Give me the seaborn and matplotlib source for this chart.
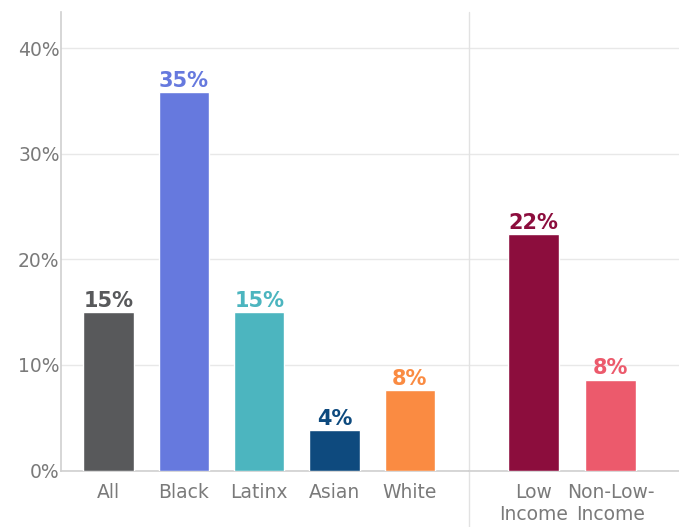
import matplotlib
matplotlib.use('Agg')
import matplotlib.pyplot as plt
import seaborn as sns
import pandas as pd

# Race / ethnicity group
race_groups = ['All', 'Black', 'Latinx', 'Asian', 'White']
race_values = [15.0, 35.8, 15.0, 3.8, 7.6]
race_labels = ['15%', '35%', '15%', '4%', '8%']
race_colors = ['#58595b', '#6679de', '#4cb5bf', '#0e4a7e', '#fa8b42']

# Income group
income_groups = ['Low\nIncome', 'Non-Low-\nIncome']
income_values = [22.4, 8.6]
income_labels = ['22%', '8%']
income_colors = ['#8c0d3d', '#ec5a6c']

y_ticks = [0, 10, 20, 30, 40]
y_tick_labels = ['0%', '10%', '20%', '30%', '40%']

GRID = '#e8e8e8'
SPINE = '#cfcfcf'
TICK = '#7a7a7a'


def draw_panel(ax, groups, values, labels, colors):
    df = pd.DataFrame({'group': groups, 'value': values})
    sns.barplot(data=df, x='group', y='value', hue='group', order=groups,
                palette=dict(zip(groups, colors)), width=0.67,
                saturation=1, legend=False, ax=ax, zorder=3)
    for cont, lab, col in zip(ax.containers, labels, colors):
        ax.bar_label(cont, labels=[lab], padding=1, color=col,
                     fontsize=15, fontweight='semibold')
    ax.set_xlabel('')
    ax.set_ylabel('')
    ax.set_ylim(0, 43.4)
    ax.set_yticks(y_ticks)
    ax.yaxis.grid(True, color=GRID, linewidth=1, zorder=0)
    ax.xaxis.grid(False)
    ax.tick_params(axis='x', length=0, pad=9, labelsize=13.5, labelcolor=TICK)
    ax.tick_params(axis='y', length=0, pad=1, labelsize=13.5, labelcolor=TICK)
    for s in ['top', 'right']:
        ax.spines[s].set_visible(False)
    ax.spines['bottom'].set_color(SPINE)
    ax.spines['bottom'].set_linewidth(1.2)


def main():
    sns.set_style('white')
    plt.rcParams['font.family'] = ['DejaVu Sans']

    fig = plt.figure(figsize=(6.79, 5.27), dpi=100)
    ax1 = fig.add_axes([0.0898, 0.107, 0.6012, 0.870])
    ax2 = fig.add_axes([0.6912, 0.107, 0.3088, 0.870])

    draw_panel(ax1, race_groups, race_values, race_labels, race_colors)
    draw_panel(ax2, income_groups, income_values, income_labels, income_colors)

    ax1.set_xlim(-0.634, 4.79)
    ax1.set_yticklabels(y_tick_labels)
    ax1.spines['left'].set_color(SPINE)
    ax1.spines['left'].set_linewidth(1.2)

    ax2.set_xlim(-0.83, 1.887)
    ax2.set_yticklabels([])
    ax2.spines['left'].set_visible(False)
    # thin separator between the two groups
    ax2.axvline(ax2.get_xlim()[0], ymin=-0.14, ymax=1, color='#e2e2e2',
                linewidth=1, clip_on=False, zorder=1)

    fig.savefig('out.png', dpi=100, facecolor='white')


if __name__ == "__main__":
    main()
